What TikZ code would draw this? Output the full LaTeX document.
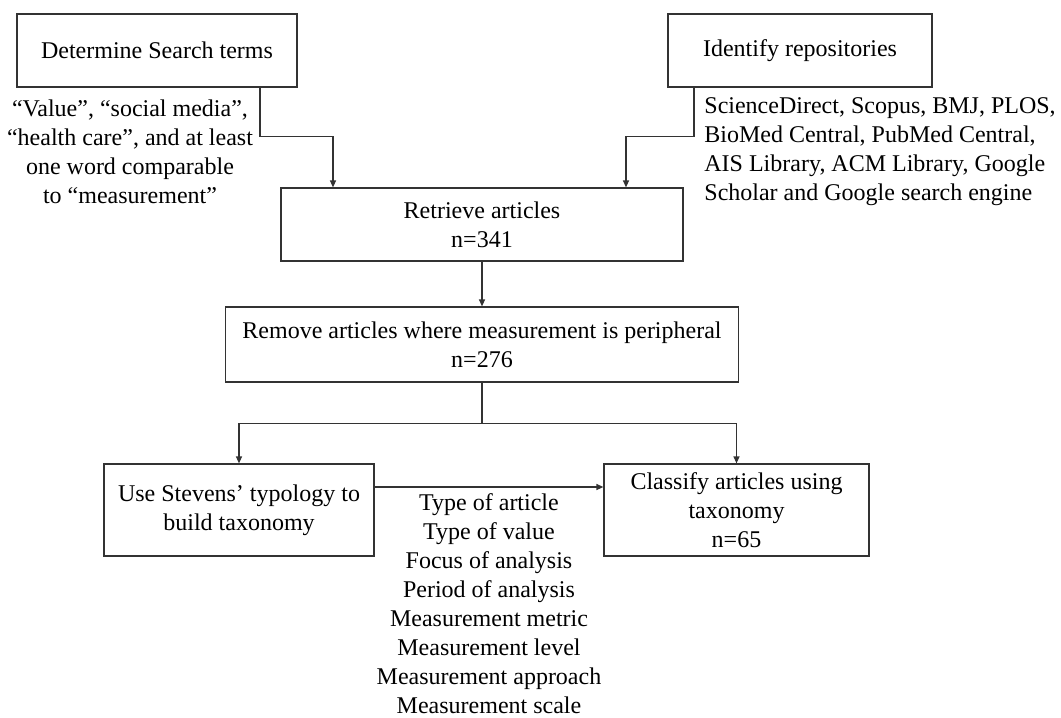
\documentclass[tikz,border=0pt]{standalone}
\usepackage{fontspec}
\setmainfont{Liberation Serif}
\usetikzlibrary{arrows.meta}
\begin{document}
\begin{tikzpicture}[x=0.5pt,y=-0.5pt,font=\fontsize{12}{14.5}\selectfont,
	box/.style={draw=black!80,line width=0.6pt,rectangle,align=center,inner sep=0pt},
	txt/.style={inner sep=0pt,align=center},
	>={Triangle[length=3.5pt,width=3pt]}]
	\useasboundingbox (0,0) rectangle (1061,718);
	
	\node[box,minimum width=140pt,minimum height=36.5pt] (det) at (157,50.5) {Determine Search terms};
	\node[box,minimum width=132pt,minimum height=36.5pt] (rep) at (800,50.5) {Identify repositories};
	\node[box,minimum width=201pt,minimum height=36.5pt] (ret) at (482,224.5) {Retrieve articles\\n=341};
	\node[box,minimum width=256.5pt,minimum height=37.5pt] (rem) at (482,344.5) {Remove articles where measurement is peripheral\\n=276};
	\node[box,minimum width=135pt,minimum height=46pt] (use) at (239,510) {Use Stevens’ typology to\\build taxonomy};
	\node[box,minimum width=132.5pt,minimum height=46pt] (cls) at (736.5,510) {Classify articles using\\taxonomy\\n=65};
	
	\node[txt] (trm) at (130,152) {“Value”, “social media”,\\“health care”, and at least\\one word comparable\\to “measurement”};
	\node[txt,anchor=west,align=left] (src) at (704,152) {ScienceDirect, Scopus, BMJ, PLOS,\\BioMed Central, PubMed Central,\\AIS Library, ACM Library, Google\\Scholar and Google search engine};
	\node[txt] (att) at (489,604) {Type of article\\Type of value\\Focus of analysis\\Period of analysis\\Measurement metric\\Measurement level\\Measurement approach\\Measurement scale};
	
	\draw[->,black!80,line width=0.6pt] ([xshift=51.5pt]det.south) -- ++(0pt,-24.5pt) -| ([xshift=-74.5pt]ret.north);
	\draw[->,black!80,line width=0.6pt] ([xshift=-53pt]rep.south) -- ++(0pt,-24.5pt) -| ([xshift=72pt]ret.north);
	\draw[->,black!80,line width=0.6pt] (ret.south) -- (rem.north);
	\draw[->,black!80,line width=0.6pt] (rem.south) -- ++(0pt,-20.5pt) -| (use.north);
	\draw[->,black!80,line width=0.6pt] (rem.south) -- ++(0pt,-20.5pt) -| (cls.north);
	\draw[->,black!80,line width=0.6pt] ([yshift=11.5pt]use.east) -- ([yshift=11.5pt]cls.west);
\end{tikzpicture}
\end{document}
